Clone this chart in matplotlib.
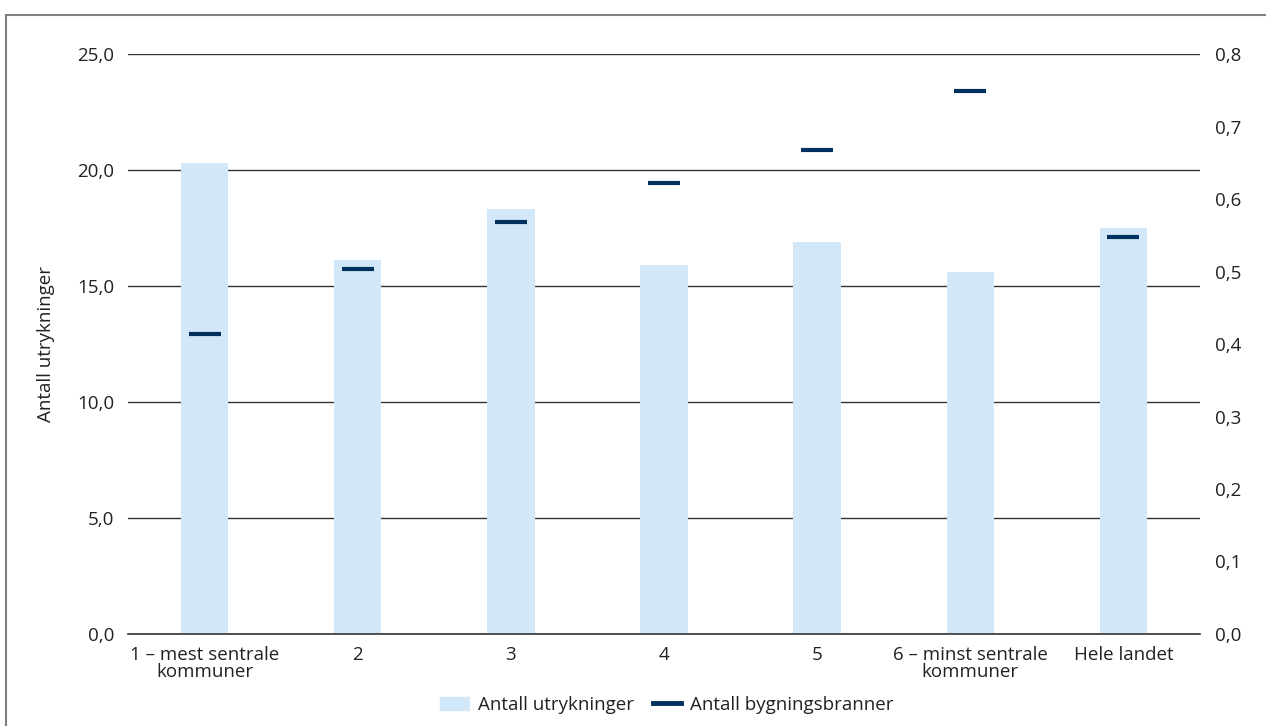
import matplotlib
matplotlib.use("Agg")
import matplotlib.pyplot as plt
from matplotlib.ticker import FuncFormatter
from matplotlib.patches import Rectangle
from matplotlib.lines import Line2D

categories = ["1 – mest sentrale\nkommuner", "2", "3", "4", "5",
              "6 – minst sentrale\nkommuner", "Hele landet"]
utrykninger = [20.3, 16.1, 18.3, 15.9, 16.9, 15.6, 17.5]
bygningsbranner = [0.414, 0.503, 0.568, 0.622, 0.668, 0.749, 0.548]
left_ticks = [0, 5, 10, 15, 20, 25]
right_ticks = [0.0, 0.1, 0.2, 0.3, 0.4, 0.5, 0.6, 0.7, 0.8]

bar_color = "#D2E7F7"
line_color = "#00305E"
text_color = "#222222"
fs = 13.5

plt.rcParams['font.family'] = ['Open Sans', 'DejaVu Sans']

fig = plt.figure(figsize=(12.66, 7.26), dpi=100)
ax = fig.add_axes([128/1266, 1 - 634/726, (1200-128)/1266, (634-54)/726])
ax2 = ax.twinx()

x = list(range(len(categories)))
ax.bar(x, utrykninger, width=0.31, color=bar_color, zorder=2)
ax.set_ylim(0, 25)
ax.set_xlim(-0.5, len(categories) - 0.5)
ax.set_yticks(left_ticks)
ax.yaxis.set_major_formatter(FuncFormatter(lambda v, p: f"{v:.1f}".replace(".", ",")))
ax.grid(axis='y', color="#333333", linewidth=1.0, zorder=1)
ax.axhline(0, color="#333333", linewidth=1.2, clip_on=False, zorder=3)
ax.set_axisbelow(True)
ax.set_xticks(x)
ax.set_xticklabels(categories, fontsize=fs, color=text_color, linespacing=0.9)
ax.tick_params(axis='both', length=0, labelsize=fs, colors=text_color)
ax.tick_params(axis='y', pad=10)
ax.tick_params(axis='x', pad=9)
ax.set_ylabel("Antall utrykninger", fontsize=fs, color=text_color, labelpad=16)

ax2.plot(x, bygningsbranner, linestyle='none', marker='_', markersize=23,
         markeredgewidth=3.0, color=line_color, zorder=5)
ax2.set_ylim(0, 0.8)
ax2.set_yticks(right_ticks)
ax2.yaxis.set_major_formatter(FuncFormatter(lambda v, p: f"{v:.1f}".replace(".", ",")))
ax2.tick_params(axis='y', length=0, labelsize=fs, colors=text_color, pad=11)

for a in (ax, ax2):
    for s in a.spines.values():
        s.set_visible(False)

handles = [Rectangle((0, 0), 1, 1, color=bar_color),
           Line2D([0], [0], color=line_color, linewidth=3.5)]
fig.legend(handles, ["Antall utrykninger", "Antall bygningsbranner"],
           loc='center', bbox_to_anchor=(667/1266, 1 - 705/726), ncol=2,
           frameon=False, fontsize=fs, handlelength=1.5, handletextpad=0.5,
           columnspacing=1.0, labelcolor=text_color)

# outer frame
fig.patches.append(Rectangle((6/1266, -0.1), 1.2, 1 - 15/726 + 0.1,
                             transform=fig.transFigure, fill=False,
                             edgecolor="#808080", linewidth=1.5))

fig.savefig("out.png", dpi=100)
